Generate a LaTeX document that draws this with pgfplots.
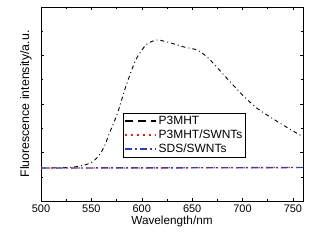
\documentclass[border=0pt]{standalone}
\usepackage{pgfplots}
\pgfplotsset{compat=1.18}
\usepackage{fontspec}
\setmainfont{Liberation Sans}
\definecolor{myblue}{RGB}{45,65,175}
\definecolor{myred}{RGB}{235,30,30}
\begin{document}
\begin{tikzpicture}
\begin{axis}[
  scale only axis, width=262bp, height=194bp,
  xmin=500, xmax=760, ymin=0, ymax=194,
  xtick={500,550,...,750}, minor x tick num=1,
  ytick={0,48.5,...,194}, minor y tick num=1, yticklabels={},
  tick align=inside, major tick length=3bp, minor tick length=2bp,
  tick style={black, line width=0.5pt},
  axis line style={line width=0.7pt},
  every tick label/.append style={font=\fontsize{11}{13}\selectfont},
  /pgf/number format/assume math mode=true,
  xlabel={Wavelength/nm}, ylabel={Fluorescence intensity/a.u.},
  xlabel style={yshift=3bp, font=\fontsize{11.8}{13}\selectfont},
  ylabel style={yshift=-1bp, font=\fontsize{12.4}{13}\selectfont},
  legend style={at={(0.313,0.454)}, anchor=north west, font=\fontsize{12}{13}\selectfont,
    draw=black, line width=0.7pt, inner sep=0.8bp, row sep=0bp, cells={anchor=west}},
  legend image code/.code={\draw[#1] (0bp,0bp) -- (31bp,0bp);},
]
\addlegendimage{black, line width=1.6pt, dash pattern=on 8bp off 5bp}
\addlegendentry{P3MHT}
\addlegendimage{myred, line width=1.6pt, dash pattern=on 1.6bp off 4.5bp}
\addlegendentry{P3MHT/SWNTs}
\addlegendimage{myblue, line width=1.6pt, dash pattern=on 7bp off 3bp on 2bp off 3bp}
\addlegendentry{SDS/SWNTs}
\addplot[black, line width=0.9pt, smooth, tension=0.4, dash pattern=on 4bp off 3bp on 1bp off 3bp, forget plot] coordinates {
(500,33) (520,33.2) (535,34.3) (545,36.5) (551.5,39.3) (558,46) (563,55) (568,68) (576,88) (584,114) (594,141) (604,156) (612,160.3) (617,161) (630,157.7) (643,153.7) (655,151) (666,143) (683,124.3) (700,106) (714,93) (729,83) (745,73) (757,66) (760,64.5)
};
\addplot[myblue, line width=1.4pt, dash pattern=on 7bp off 3bp on 2bp off 3bp, forget plot] coordinates {
(500,33) (600,33.1) (700,33.3) (760,33.5)
};
\addplot[myred, line width=1.3pt, dash pattern=on 1.5bp off 6bp, forget plot] coordinates {
(500,33) (600,33.1) (700,33.3) (760,33.5)
};
\end{axis}
\pgfresetboundingbox
\path[use as bounding box] (-41bp,-39bp) rectangle (274bp,201bp);
\end{tikzpicture}
\end{document}
